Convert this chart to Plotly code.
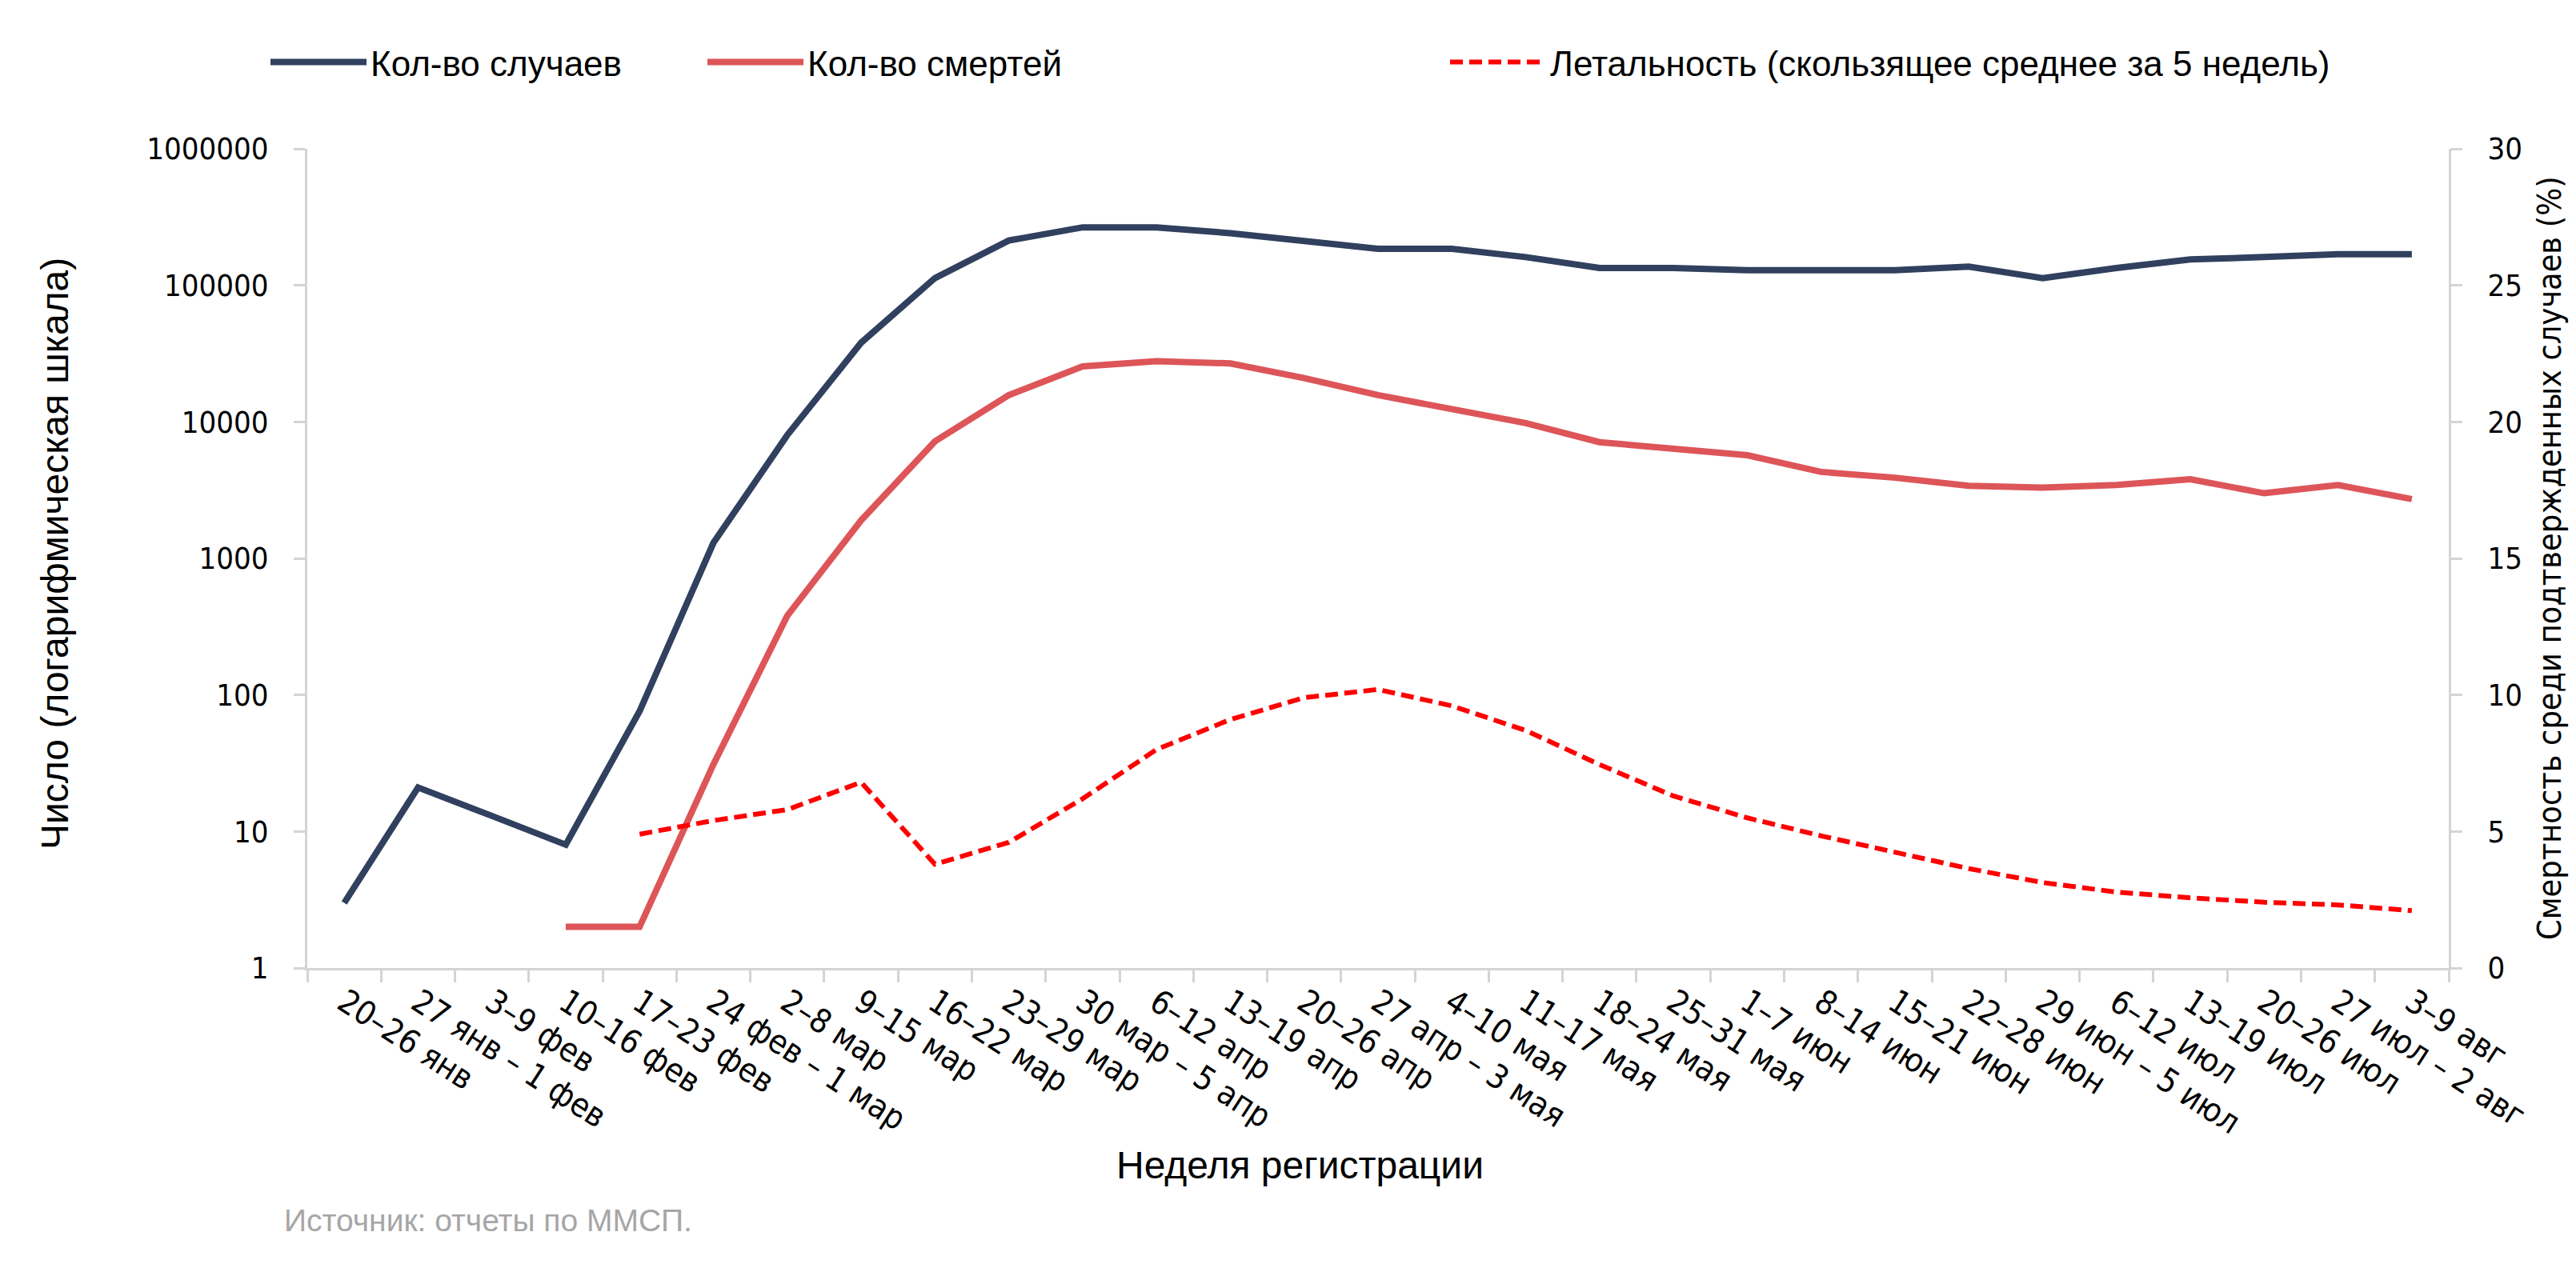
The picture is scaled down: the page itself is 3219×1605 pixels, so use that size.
import plotly.graph_objects as go

weeks = ["20–26 янв", "27 янв – 1 фев", "3–9 фев", "10–16 фев", "17–23 фев",
         "24 фев – 1 мар", "2–8 мар", "9–15 мар", "16–22 мар", "23–29 мар",
         "30 мар – 5 апр", "6–12 апр", "13–19 апр", "20–26 апр", "27 апр – 3 мая",
         "4–10 мая", "11–17 мая", "18–24 мая", "25–31 мая", "1–7 июн",
         "8–14 июн", "15–21 июн", "22–28 июн", "29 июн – 5 июл", "6–12 июл",
         "13–19 июл", "20–26 июл", "27 июл – 2 авг", "3–9 авг"]

cases = [3, 21, 13, 8, 76, 1300, 8000, 38000, 113000, 213000,
         266000, 266000, 241000, 213000, 185000, 185000, 161000, 134000, 134000, 129000,
         129000, 129000, 137000, 113000, 134000, 155000, 161000, 169000, 169000]

deaths = [None, None, None, 2, 2, 31, 380, 1900, 7200, 15700,
          25500, 27800, 26800, 20900, 15700, 12400, 9800, 7100, 6300, 5700,
          4300, 3900, 3400, 3300, 3450, 3800, 3000, 3450, 2720]

fatality = [None, None, None, None, 4.9, 5.4, 5.8, 6.8, 3.8, 4.6,
            6.2, 8.0, 9.1, 9.9, 10.2, 9.6, 8.7, 7.45, 6.3, 5.5,
            4.84, 4.26, 3.64, 3.13, 2.78, 2.57, 2.41, 2.31, 2.1]

left_ticks = [1, 10, 100, 1000, 10000, 100000, 1000000]
left_tick_text = ["1", "10", "100", "1000", "10000", "100000", "1000000"]
right_ticks = [0, 5, 10, 15, 20, 25, 30]

W, H = 3219, 1605
L, R, T, B = 376, 167, 178, 403
pw = W - L - R
ph = H - T - B


def px(xp):
    return (xp - L) / pw


def py(yp):
    return (H - B - yp) / ph


BLUE = "#30405E"
PINK = "#DD5558"
RED = "#FF0000"
AXC = "#D4D4D4"
CONDENSED = "DejaVu Sans Condensed, DejaVu Sans"
TICKFONT = dict(family=CONDENSED, size=38, color="#000000")
TXTFONT = "Liberation Sans, Arial"

fig = go.Figure()
fig.add_trace(go.Scatter(x=weeks, y=cases, name="Кол-во случаев", mode="lines",
                         line=dict(color=BLUE, width=8), legend="legend"))
fig.add_trace(go.Scatter(x=weeks, y=deaths, name="Кол-во смертей", mode="lines",
                         line=dict(color=PINK, width=8), legend="legend2"))
fig.add_trace(go.Scatter(x=weeks, y=fatality, name="Летальность (скользящее среднее за 5 недель)",
                         mode="lines", yaxis="y2",
                         line=dict(color=RED, width=6, dash="16px,8px"), legend="legend3"))

leg_common = dict(orientation="h", yanchor="middle", xanchor="left",
                  font=dict(family=TXTFONT, size=44, color="#000000"),
                  bgcolor="rgba(0,0,0,0)", itemwidth=120)

LEG_Y = 70
fig.update_layout(
    width=W, height=H,
    margin=dict(l=L, r=R, t=T, b=B),
    paper_bgcolor="white", plot_bgcolor="white",
    showlegend=True,
    legend=dict(x=px(325), y=py(LEG_Y), **leg_common),
    legend2=dict(x=px(871), y=py(LEG_Y), **leg_common),
    legend3=dict(x=px(1799), y=py(LEG_Y), **leg_common),
    xaxis=dict(type="category", range=[-0.5, len(weeks) - 0.5],
               showline=True, linecolor=AXC, linewidth=3,
               ticks="outside", ticklen=15, tickwidth=3, tickcolor=AXC,
               tickson="boundaries", tickangle=33,
               tickfont=dict(family=CONDENSED, size=41, color="#000000"),
               showgrid=False, zeroline=False),
    yaxis=dict(type="log", range=[0, 6], tickvals=left_ticks, ticktext=left_tick_text,
               showline=True, linecolor=AXC, linewidth=3,
               ticks="outside", ticklen=14, tickwidth=3, tickcolor=AXC,
               ticklabelstandoff=24,
               tickfont=TICKFONT, showgrid=False, zeroline=False),
    yaxis2=dict(overlaying="y", side="right", range=[0, 30], tickvals=right_ticks,
                showline=True, linecolor=AXC, linewidth=3,
                ticks="outside", ticklen=14, tickwidth=3, tickcolor=AXC,
                ticklabelstandoff=24,
                tickfont=TICKFONT, showgrid=False, zeroline=False),
    annotations=[
        dict(text="Число (логарифмическая шкала)", x=px(60), y=py(684), xref="paper", yref="paper",
             textangle=-90, showarrow=False, xanchor="center", yanchor="middle",
             font=dict(family=TXTFONT, size=48, color="#000000")),
        dict(text="Смертность среди подтвержденных случаев (%)", x=px(3178), y=0.5,
             xref="paper", yref="paper", textangle=-90, showarrow=False,
             xanchor="center", yanchor="middle",
             font=dict(family=CONDENSED, size=41, color="#000000")),
        dict(text="Неделя регистрации", x=px(1616), y=py(1448), xref="paper", yref="paper",
             showarrow=False, xanchor="center", yanchor="middle",
             font=dict(family=TXTFONT, size=48, color="#000000")),
        dict(text="Источник: отчеты по ММСП.", x=px(345), y=py(1517), xref="paper", yref="paper",
             showarrow=False, xanchor="left", yanchor="middle",
             font=dict(family=TXTFONT, size=39, color="#A6A6A6")),
    ],
)

fig.write_html("out.html")
